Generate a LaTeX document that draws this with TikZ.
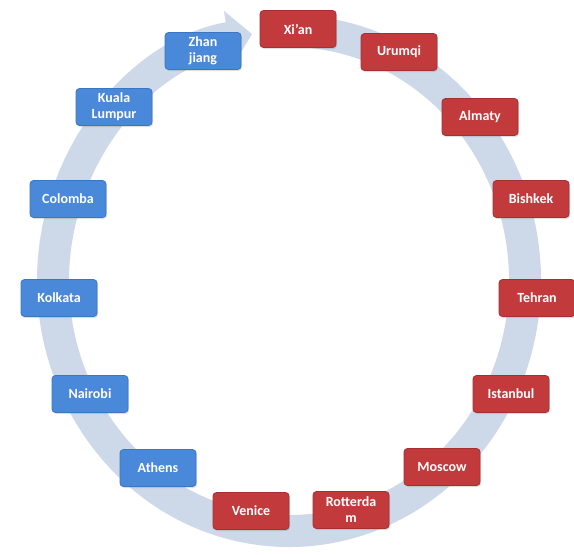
\documentclass[tikz,border=0pt]{standalone}
\usepackage{fontspec}
\setmainfont{Carlito}
\usetikzlibrary{arrows.meta,shadows}
\definecolor{bandcol}{HTML}{CDD8E8}
\definecolor{redbox}{HTML}{C23A3C}
\definecolor{redline}{HTML}{A52F31}
\definecolor{bluebox}{HTML}{4A88D9}
\definecolor{blueline}{HTML}{3B76C3}
\begin{document}
\begin{tikzpicture}[x=1pt,y=-1pt,
  city/.style={rounded corners=3.5pt, minimum width=76pt, minimum height=37pt,
    inner sep=2pt, align=center, text=white,
    font=\fontsize{14}{16}\selectfont\bfseries, line width=0.8pt,
    drop shadow={opacity=0.25, shadow xshift=1pt, shadow yshift=-1.5pt}},
  redcity/.style={city, fill=redbox, draw=redline},
  bluecity/.style={city, fill=bluebox, draw=blueline}]
\useasboundingbox (0,0) rectangle (574,555);
\coordinate (c) at (289,281);
\draw[bandcol, line width=32pt, -{Triangle[length=24pt,width=54pt]}]
  ([shift={(-84:236 and 250)}]c) arc[start angle=-84, end angle=261, x radius=236, y radius=250];
\node[redcity] (xian) at (298,29) {Xi'an};
\node[redcity] (urumqi) at (399,52) {Urumqi};
\node[redcity] (almaty) at (480,117) {Almaty};
\node[redcity] (bishkek) at (531,199) {Bishkek};
\node[redcity] (tehran) at (537,298) {Tehran};
\node[redcity] (istanbul) at (511,394) {Istanbul};
\node[redcity] (moscow) at (442,467) {Moscow};
\node[redcity] (rotterdam) at (351,510) {Rotterda\\m};
\node[redcity] (venice) at (251,511) {Venice};
\node[bluecity] (athens) at (158,468) {Athens};
\node[bluecity] (nairobi) at (90,394) {Nairobi};
\node[bluecity] (kolkata) at (59,298) {Kolkata};
\node[bluecity] (colomba) at (68,199) {Colomba};
\node[bluecity] (kuala) at (114,107) {Kuala\\Lumpur};
\node[bluecity] (zhan) at (203,51) {Zhan\\jiang};
\end{tikzpicture}
\end{document}
